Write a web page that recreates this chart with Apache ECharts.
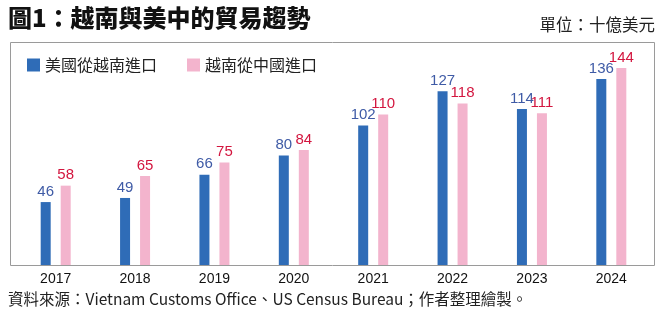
<!DOCTYPE html>
<html>
<head>
<meta charset="utf-8">
<script src="https://cdn.jsdelivr.net/npm/echarts@6/dist/echarts.min.js"></script>
<style>
  html, body { margin: 0; padding: 0; background: #fff; }
  #chart { width: 671px; height: 323px; }
</style>
</head>
<body>
<div id="chart"></div>
<script>
// Years on the category axis
const years = ['2017', '2018', '2019', '2020', '2021', '2022', '2023', '2024'];
// US imports from Vietnam (billion USD)
const usFromVietnam = [46, 49, 66, 80, 102, 127, 114, 136];
// Vietnam imports from China (billion USD)
const vietnamFromChina = [58, 65, 75, 84, 110, 118, 111, 144];

const seriesNames = ['美國從越南進口', '越南從中國進口'];
const titleText = '圖1：越南與美中的貿易趨勢';
const unitText = '單位：十億美元';
const sourceText = '資料來源：Vietnam Customs Office、US Census Bureau；作者整理繪製。';

const cjk = '"Noto Sans CJK TC", "Noto Sans CJK SC", sans-serif';
const narrow = '"Liberation Sans Narrow", "Arial Narrow", "Liberation Sans", sans-serif';

const chart = echarts.init(document.getElementById('chart'), null, { renderer: 'canvas' });

chart.setOption({
  animation: false,
  backgroundColor: '#ffffff',
  textStyle: { fontFamily: cjk },
  grid: { left: 16, right: 20, top: 42, bottom: 58 },
  legend: {
    left: 22,
    top: 52,
    itemWidth: 13,
    itemHeight: 13,
    itemGap: 30,
    icon: 'rect',
    textStyle: { fontSize: 16, color: '#222', fontFamily: cjk },
    data: seriesNames
  },
  xAxis: {
    type: 'category',
    data: years,
    axisLine: { show: false },
    axisTick: { show: false },
    axisLabel: { fontSize: 14, color: '#111', fontFamily: narrow, margin: 7 }
  },
  yAxis: {
    type: 'value',
    min: 0,
    max: 163,
    show: false,
    splitLine: { show: false }
  },
  series: [
    {
      name: seriesNames[0],
      type: 'bar',
      data: usFromVietnam,
      barWidth: 10,
      barGap: '100%',
      itemStyle: { color: '#2f6cb7' },
      label: {
        show: true,
        position: 'top',
        distance: 3,
        fontSize: 15,
        color: '#3f5ba6',
        fontFamily: narrow
      }
    },
    {
      name: seriesNames[1],
      type: 'bar',
      data: vietnamFromChina,
      barWidth: 10,
      itemStyle: { color: '#f3b4cd' },
      label: {
        show: true,
        position: 'top',
        distance: 3,
        fontSize: 15,
        color: '#d3163f',
        fontFamily: narrow
      }
    }
  ],
  graphic: [
    {
      type: 'rect',
      shape: { x: 10.5, y: 42.5, width: 644, height: 223 },
      style: { fill: 'none', stroke: '#9a9a9a', lineWidth: 1 },
      z: 0
    },
    {
      type: 'text',
      left: 8,
      top: 6,
      style: { text: titleText, font: '900 24px ' + cjk, fill: '#111' }
    },
    {
      type: 'text',
      right: 16,
      top: 16,
      style: { text: unitText, font: '400 16.5px ' + cjk, fill: '#222' }
    },
    {
      type: 'text',
      left: 8,
      top: 291,
      style: { text: sourceText, font: '400 15.5px ' + cjk, fill: '#222' }
    }
  ]
});
</script>
</body>
</html>
